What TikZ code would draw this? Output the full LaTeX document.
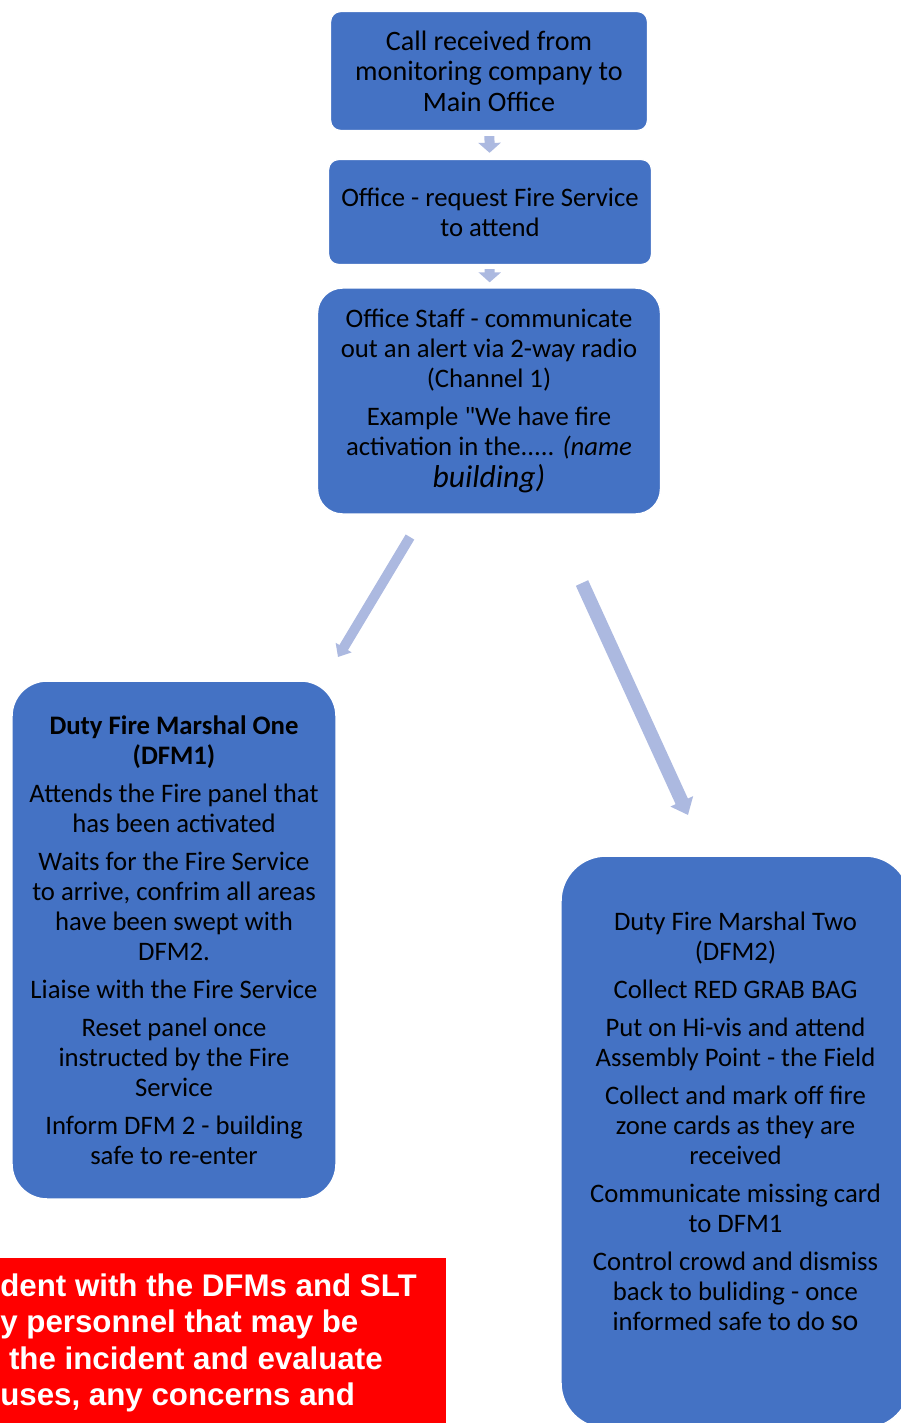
\documentclass[tikz,border=0pt]{standalone}
\usepackage{fontspec}
\setmainfont{Carlito}[Ligatures=TeXOff]
\newfontfamily\alertfont{Liberation Sans}
\usetikzlibrary{arrows.meta}

\definecolor{boxblue}{HTML}{4472C4}
\definecolor{arrowblue}{HTML}{ACB9E0}
\definecolor{alertred}{HTML}{FF0000}

\begin{document}
\begin{tikzpicture}[x=0.02cm, y=-0.02cm,
  stepbox/.style={draw=white, line width=0.8pt, fill=boxblue, align=center,
    inner sep=0pt, font=\fontsize{15.2}{17.1}\selectfont},
  downarrow/.style={draw=arrowblue, line width=0.2cm,
    -{Triangle[width=0.44cm, length=0.2cm]}},
  bigarrow/.style={draw=arrowblue, line width=#1},
]
\useasboundingbox (0,0) rectangle (900,1423);

% flow at the top
\node[stepbox, rounded corners=0.2cm, minimum width=6.34cm, minimum height=2.38cm,
  font=\fontsize{16}{17.4}\selectfont]
  (call) at (489,71) {Call received from\\monitoring company to\\Main Office};
\node[stepbox, rounded corners=0.2cm, minimum width=6.46cm, minimum height=2.1cm]
  (request) at (490,212) {Office - request Fire Service\\to attend};
\node[stepbox, rounded corners=0.5cm, minimum width=6.86cm, minimum height=4.52cm]
  (alert) at (489,401) {Office Staff - communicate\\out an alert via 2-way radio\\(Channel 1)\\[4.5pt]
  Example "We have fire\\activation in the..... \textit{(name}\\[1pt]
  {\fontsize{18}{20}\selectfont\textit{building)}}};

\draw[downarrow, shorten <=0.1cm, shorten >=0.12cm] (call) -- (request);
\draw[downarrow, shorten <=0.08cm, shorten >=0.1cm] (request) -- (alert);

% the two marshals
\node[stepbox, rounded corners=0.7cm, minimum width=6.48cm, minimum height=10.36cm]
  (dfmOne) at (174,940) {\textbf{Duty Fire Marshal One}\\\textbf{(DFM1)}\\[4.5pt]
  Attends the Fire panel that\\has been activated\\[4.5pt]
  Waits for the Fire Service\\to arrive, confrim all areas\\have been swept with\\DFM2.\\[4.5pt]
  Liaise with the Fire Service\\[4.5pt]
  Reset panel once\\instructed by the Fire\\Service\\[4.5pt]
  Inform DFM 2 - building\\safe to re-enter};

\node[stepbox, rounded corners=0.9cm, minimum width=6.98cm, minimum height=11.44cm]
  (dfmTwo) at (735.5,1142) {};
\node[align=center, inner sep=0pt, font=\fontsize{15.2}{17.1}\selectfont]
  (dfmTwoText) at (735.5,1121) {Duty Fire Marshal Two\\(DFM2)\\[4.5pt]
  Collect RED GRAB BAG\\[4.5pt]
  Put on Hi-vis and attend\\Assembly Point - the Field\\[4.5pt]
  Collect and mark off fire\\zone cards as they are\\received\\[4.5pt]
  Communicate missing card\\to DFM1\\[4.5pt]
  Control crowd and dismiss\\back to buliding - once\\informed safe to do {\fontsize{17}{17}\selectfont so}};

\coordinate (leftTail) at (410,537);
\coordinate (leftTip) at (338,657);
\coordinate (rightTail) at (582,583);
\coordinate (rightTip) at (688,815);
\draw[bigarrow=0.2cm, -{Triangle[width=0.36cm, length=0.22cm]}] (leftTail) -- (leftTip);
\draw[bigarrow=0.27cm, -{Triangle[width=0.48cm, length=0.3cm]}] (rightTail) -- (rightTip);

% debrief box, cut by the page
\node[fill=alertred, minimum width=9.92cm, minimum height=4cm, anchor=north east, inner sep=0pt]
  (debrief) at (446,1258) {};
\node[anchor=north west, align=left, inner sep=0pt, text=white,
  font=\alertfont\bfseries\fontsize{17.8}{20.8}\selectfont]
  (debriefText) at (0,1273) {dent with the DFMs and SLT\\y personnel that may be\\
  \ the incident and evaluate\\uses, any concerns and};

\end{tikzpicture}
\end{document}
